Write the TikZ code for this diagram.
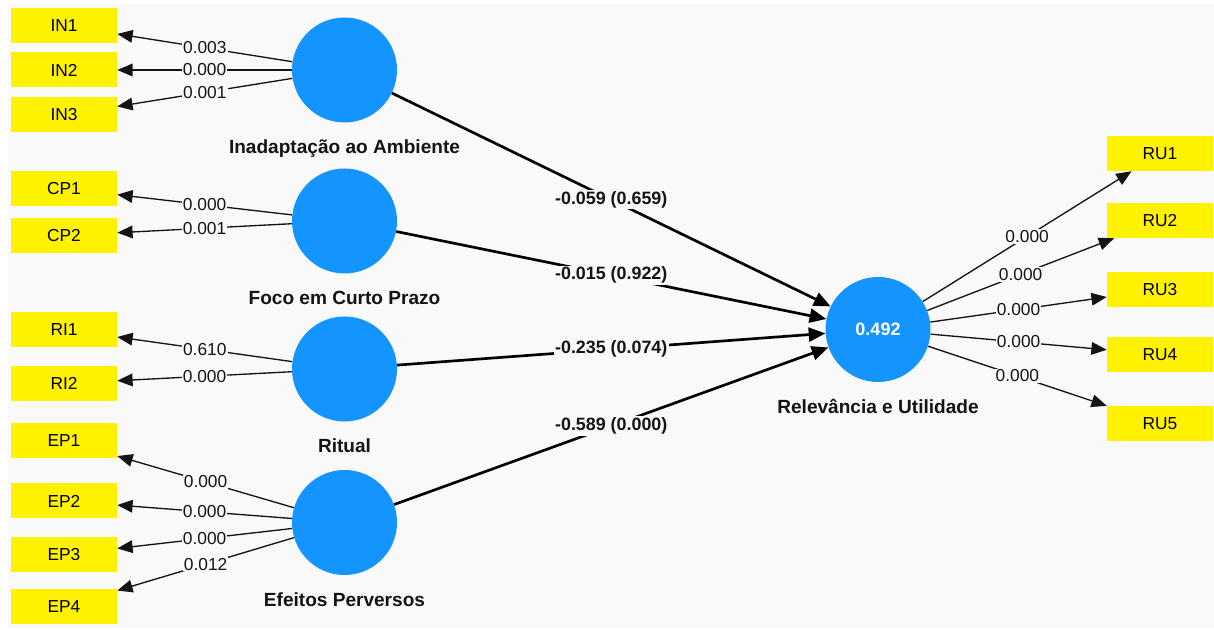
\documentclass[tikz,border=0pt]{standalone}
\usepackage{fontspec}
\setmainfont{Liberation Sans}
\usetikzlibrary{arrows.meta,positioning}
\definecolor{plsblue}{RGB}{20,148,255}
\definecolor{plsbg}{RGB}{249,249,249}
\definecolor{plstext}{RGB}{20,20,20}
\tikzset{
  ind/.style={rectangle, fill=yellow, minimum width=79.5pt, minimum height=26.25pt,
    inner sep=0pt, font=\fontsize{13pt}{15pt}\selectfont},
  lv/.style={circle, fill=plsblue, minimum size=78.75pt, inner sep=0pt, text=white,
    font=\bfseries\fontsize{13.5pt}{15pt}\selectfont},
  lvname/.style={anchor=base, label distance=23.25pt, text=plstext,
    font=\bfseries\fontsize{14.3pt}{16pt}\selectfont},
  load/.style={draw=plstext, line width=1pt, -{Triangle[length=11.5pt,width=9.5pt]}},
  struct/.style={draw=black, line width=2pt, -{Triangle[length=12.5pt,width=10.5pt]}},
  loadval/.style={fill=plsbg, inner sep=0.8pt, text=plstext,
    font=\fontsize{13pt}{15pt}\selectfont},
  structval/.style={fill=plsbg, inner sep=1pt, text=plstext,
    font=\bfseries\fontsize{13.4pt}{15pt}\selectfont}
}
\begin{document}
\begin{tikzpicture}[x=0.75pt, y=-0.75pt]
  \useasboundingbox (0,0) rectangle (1214,630);
  \fill[white] (0,0) rectangle (1214,630);
  \fill[plsbg] (8,4) rectangle (1214,628);

  % latent variables
  \node[lv, label={[lvname]below:Inadaptação ao Ambiente}] (inad) at (344.5,70) {};
  \node[lv, label={[lvname]below:Foco em Curto Prazo}] (foco) at (344.5,221) {};
  \node[lv, label={[lvname]below:Ritual}] (rit) at (344.5,369) {};
  \node[lv, label={[lvname]below:Efeitos Perversos}] (efe) at (344.5,522.5) {};
  \node[lv, label={[lvname]below:Relevância e Utilidade}] (rel) at (878,329.5) {0.492};

  % indicators
  \node[ind] (in1) at (64,25.5) {IN1};
  \node[ind] (in2) at (64,70) {IN2};
  \node[ind] (in3) at (64,115) {IN3};
  \node[ind] (cp1) at (64,188.5) {CP1};
  \node[ind] (cp2) at (64,235.5) {CP2};
  \node[ind] (ri1) at (64,329.5) {RI1};
  \node[ind] (ri2) at (64,383.5) {RI2};
  \node[ind] (ep1) at (64,440.5) {EP1};
  \node[ind] (ep2) at (64,501) {EP2};
  \node[ind] (ep3) at (64,554.5) {EP3};
  \node[ind] (ep4) at (64,606.5) {EP4};
  \node[ind] (ru1) at (1160,153.5) {RU1};
  \node[ind] (ru2) at (1160,220.5) {RU2};
  \node[ind] (ru3) at (1160,289.5) {RU3};
  \node[ind] (ru4) at (1160,354.5) {RU4};
  \node[ind] (ru5) at (1160,423.5) {RU5};

  % outer loadings
  \draw[load] (inad) -- node[loadval] {0.003} (in1);
  \draw[load] (inad) -- node[loadval] {0.000} (in2);
  \draw[load] (inad) -- node[loadval] {0.001} (in3);
  \draw[load] (foco) -- node[loadval] {0.000} (cp1);
  \draw[load] (foco) -- node[loadval] {0.001} (cp2);
  \draw[load] (rit) -- node[loadval] {0.610} (ri1);
  \draw[load] (rit) -- node[loadval] {0.000} (ri2);
  \draw[load] (efe) -- node[loadval] {0.000} (ep1);
  \draw[load] (efe) -- node[loadval] {0.000} (ep2);
  \draw[load] (efe) -- node[loadval] {0.000} (ep3);
  \draw[load] (efe) -- node[loadval] {0.012} (ep4);
  \draw[load] (rel) -- node[loadval] {0.000} (ru1);
  \draw[load] (rel) -- node[loadval] {0.000} (ru2);
  \draw[load] (rel) -- node[loadval] {0.000} (ru3);
  \draw[load] (rel) -- node[loadval] {0.000} (ru4);
  \draw[load] (rel) -- node[loadval] {0.000} (ru5);

  % path coefficients
  \draw[struct] (inad) -- node[structval] {-0.059 (0.659)} (rel);
  \draw[struct] (foco) -- node[structval] {-0.015 (0.922)} (rel);
  \draw[struct] (rit) -- node[structval] {-0.235 (0.074)} (rel);
  \draw[struct] (efe) -- node[structval] {-0.589 (0.000)} (rel);
\end{tikzpicture}
\end{document}
